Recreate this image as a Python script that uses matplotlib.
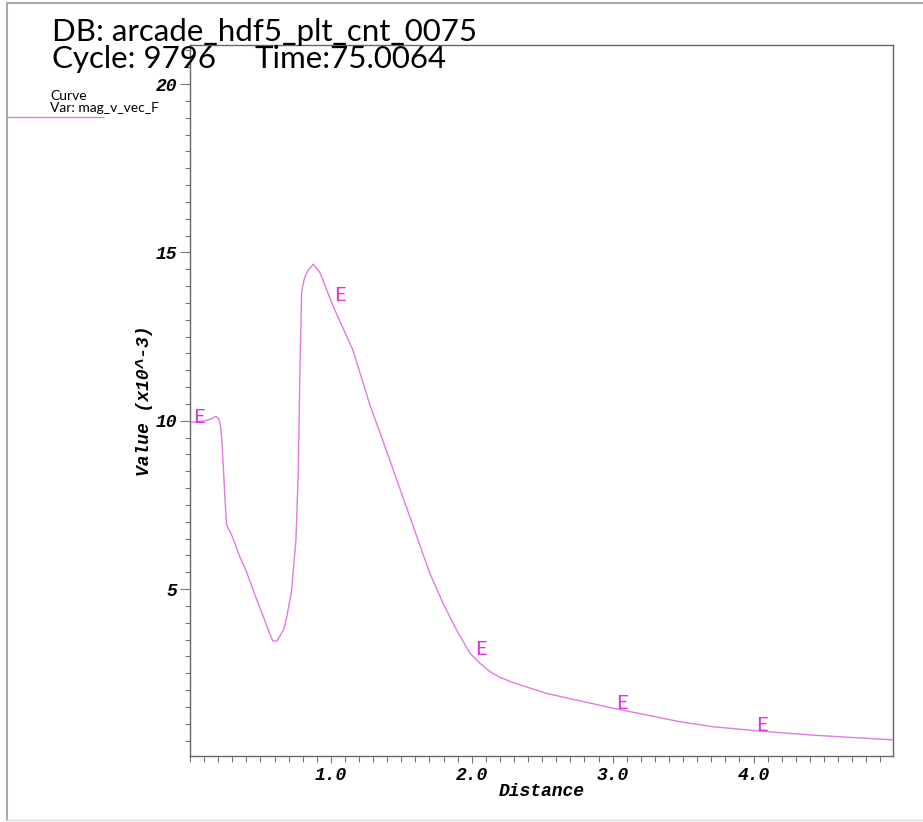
import numpy as np
import matplotlib
matplotlib.use("Agg")
import matplotlib.pyplot as plt
from matplotlib.lines import Line2D
from matplotlib.font_manager import FontProperties
from matplotlib.ticker import MultipleLocator, FormatStrFormatter

# curve samples (value in units of 1e-3)
distance = [0.0, 0.05, 0.106, 0.15, 0.184, 0.205, 0.218, 0.228, 0.238, 0.248, 0.26,
            0.296, 0.35, 0.402, 0.45, 0.496, 0.55, 0.587, 0.615, 0.638, 0.665,
            0.686, 0.721, 0.752, 0.768, 0.78, 0.792, 0.81, 0.828, 0.874, 0.922,
            1.016, 1.156, 1.277, 1.348, 1.418, 1.56, 1.702, 1.796, 1.891, 1.986,
            2.057, 2.128, 2.199, 2.293, 2.53, 2.766, 3.002, 3.239, 3.475, 3.711,
            4.019, 4.42, 4.657, 4.988]
value = [9.95, 9.97, 10.0, 10.05, 10.13, 10.05, 9.8, 9.3, 8.5, 7.7, 6.9,
         6.6, 6.0, 5.5, 4.95, 4.45, 3.85, 3.46, 3.45, 3.6, 3.8,
         4.15, 4.95, 6.45, 8.4, 11.4, 13.8, 14.2, 14.4, 14.65, 14.4,
         13.4, 12.1, 10.47, 9.65, 8.83, 7.15, 5.47, 4.58, 3.79, 3.10,
         2.80, 2.55, 2.38, 2.22, 1.90, 1.68, 1.46, 1.26, 1.06, 0.91,
         0.79, 0.66, 0.60, 0.52]
label_x = [0.0, 1.0, 2.0, 3.0, 4.0]

db_name = "DB: arcade_hdf5_plt_cnt_0075"
cycle_txt = "Cycle: 9796"
time_txt = "Time:75.0064"
var_name = "Var: mag_v_vec_F"

W, H = 923, 822
line_col = "#e27ae2"
mark_col = "#e030e0"
mono = "Liberation Mono"
head = "Lato"

fig = plt.figure(figsize=(W / 100, H / 100), dpi=100)
ax = fig.add_axes([190 / W, 1 - 756 / H, (893 - 190) / W, (756 - 45) / H])

ax.plot(distance, value, color=line_col, lw=1.0)
for lx in label_x:
    ly = np.interp(lx, distance, value)
    ax.annotate("E", (lx, ly), xytext=(3, 5), textcoords="offset pixels",
                ha="left", va="center", color=mark_col, fontsize=14.5, family=head)

ax.set_xlim(0, 4.99)
ax.set_ylim(0.04, 21.16)

ax.xaxis.set_minor_locator(MultipleLocator(0.1))
ax.yaxis.set_minor_locator(MultipleLocator(0.5))
ax.set_xticks([1, 2, 3, 4])
ax.set_yticks([5, 10, 15, 20])
ax.xaxis.set_major_formatter(FormatStrFormatter("%.1f"))
ax.yaxis.set_major_formatter(FormatStrFormatter("%d"))

tick_fp = FontProperties(family=mono, weight="bold", style="italic", size=13)
for lab in ax.get_xticklabels():
    lab.set_fontproperties(tick_fp)
for lab in ax.get_yticklabels():
    lab.set_fontproperties(tick_fp)

ax.tick_params(axis="both", which="both", direction="out", color="#777777", width=0.8)
ax.tick_params(axis="y", which="major", length=7, pad=2)
ax.tick_params(axis="y", which="minor", length=3.5)
ax.tick_params(axis="x", which="major", length=5, pad=3)
ax.tick_params(axis="x", which="minor", length=4)
for s in ax.spines.values():
    s.set_color("#666666")
    s.set_linewidth(1.0)

ax.set_xlabel("Distance", family=mono, weight="bold", style="italic", fontsize=13)
ax.set_ylabel("Value (x10^-3)", family=mono, weight="bold", style="italic", fontsize=13)
ax.xaxis.set_label_coords(0.5, -0.038)
ax.yaxis.set_label_coords(-0.052, 0.5)

# header text
fig.text(52 / W, 1 - 41 / H, db_name, fontsize=22.5, family=head, va="baseline")
fig.text(52 / W, 1 - 68 / H, cycle_txt, fontsize=22.5, family=head, va="baseline")
fig.text(255 / W, 1 - 68 / H, time_txt, fontsize=22.5, family=head, va="baseline")

# legend
fig.text(50 / W, 1 - 100 / H, "Curve", fontsize=10, family=head, va="baseline")
fig.text(50 / W, 1 - 112 / H, var_name, fontsize=10, family=head, va="baseline")
fig.add_artist(Line2D([8 / W, 103 / W], [1 - 117 / H, 1 - 117 / H],
                      color=line_col, lw=1.0))

# outer frame
frame_col = "#aaaaaa"
fig.add_artist(Line2D([7 / W, 7 / W], [1 - 820 / H, 1 - 3 / H], color=frame_col, lw=1.5))
fig.add_artist(Line2D([7 / W, 1.0], [1 - 3 / H, 1 - 3 / H], color=frame_col, lw=1.5))
fig.add_artist(Line2D([7 / W, 1.0], [1 - 820 / H, 1 - 820 / H], color="#dddddd", lw=1.0))

fig.savefig("out.png", dpi=100)
